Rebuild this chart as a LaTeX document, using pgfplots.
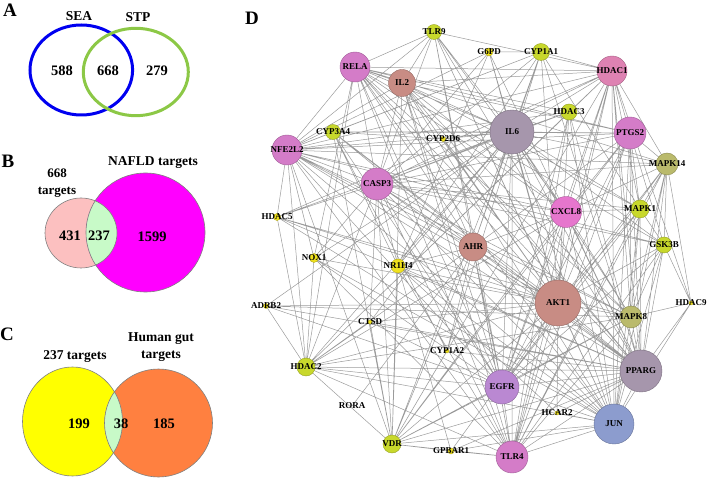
\documentclass[border=0pt]{standalone}
\usepackage{pgfplots}
\pgfplotsset{compat=1.18}
\usepackage{fontspec}
\setmainfont{Liberation Serif}
\definecolor{cYG}{RGB}{200,216,44}
\definecolor{cY}{RGB}{240,226,30}
\definecolor{cPink}{RGB}{212,124,200}
\definecolor{cPinkB}{RGB}{222,130,178}
\definecolor{cPinkC}{RGB}{230,118,205}
\definecolor{cRosy}{RGB}{200,140,132}
\definecolor{cGP}{RGB}{166,150,172}
\definecolor{cOl}{RGB}{186,186,108}
\definecolor{cEG}{RGB}{186,136,210}
\definecolor{cJU}{RGB}{140,156,206}
\definecolor{vBlue}{RGB}{0,0,240}
\definecolor{vGreen}{RGB}{140,200,70}
\definecolor{vPink}{RGB}{252,192,192}
\definecolor{vMag}{RGB}{255,0,255}
\definecolor{vLens}{RGB}{200,250,200}
\definecolor{vYel}{RGB}{255,255,0}
\definecolor{vOra}{RGB}{255,128,64}
\definecolor{edgec}{RGB}{155,155,155}

% name, x, y, radius, colour  (pixel coordinates of the figure)
\newcommand\nodedata{%
\N{TLR9}{434}{32}{7.5}{cYG}%
\N{G6PD}{489}{52}{4}{cY}%
\N{CYP1A1}{541}{52}{8.5}{cYG}%
\N{RELA}{355}{67}{15}{cPink}%
\N{IL2}{402}{83}{13.5}{cRosy}%
\N{HDAC1}{612}{71}{15}{cPinkB}%
\N{HDAC3}{569}{112}{8}{cYG}%
\N{CYP3A4}{333}{132}{7.5}{cYG}%
\N{CYP2D6}{443}{139}{2.5}{cY}%
\N{IL6}{512}{132}{22}{cGP}%
\N{NFE2L2}{287}{150}{15}{cPink}%
\N{PTGS2}{630}{133}{16}{cPink}%
\N{MAPK14}{667}{164}{11}{cOl}%
\N{CASP3}{377}{184}{16}{cPink}%
\N{CXCL8}{566}{212}{15.5}{cPinkC}%
\N{MAPK1}{640}{209}{9}{cYG}%
\N{HDAC5}{277}{217}{3.5}{cY}%
\N{AHR}{473}{247}{14}{cRosy}%
\N{GSK3B}{664}{245}{8}{cYG}%
\N{NOX1}{314}{258}{4.5}{cY}%
\N{NR1H4}{398}{266}{7}{cY}%
\N{ADRB2}{266}{306}{2.5}{cY}%
\N{AKT1}{558}{303}{23}{cRosy}%
\N{HDAC9}{691}{303}{2}{cY}%
\N{MAPK8}{631}{317}{11}{cOl}%
\N{CTSD}{370}{322}{2}{cY}%
\N{CYP1A2}{447}{351}{2}{cY}%
\N{HDAC2}{306}{367}{9}{cYG}%
\N{PPARG}{641}{371}{21}{cGP}%
\N{EGFR}{502}{387}{17}{cEG}%
\N{RORA}{352}{406}{0.1}{white}%
\N{HCAR2}{557}{413}{2}{cY}%
\N{JUN}{614}{424}{20}{cJU}%
\N{VDR}{392}{444}{9}{cYG}%
\N{GPBAR1}{451}{451}{3}{cY}%
\N{TLR4}{512}{457}{16}{cPink}%
}

\def\N#1#2#3#4#5{\expandafter\def\csname nx:#1\endcsname{#2}\expandafter\def\csname ny:#1\endcsname{#3}}
\nodedata
\gdef\edgelist{}
\def\E#1#2{\xdef\edgelist{\edgelist(\csname nx:#1\endcsname,\csname ny:#1\endcsname) (\csname nx:#2\endcsname,\csname ny:#2\endcsname) (\csname nx:#2\endcsname,nan) }}
\def\Es#1#2{\foreach \nb in {#2}{\E{#1}{\nb}}}
\Es{TLR9}{RELA,IL2,IL6,CASP3,CXCL8,AKT1,PPARG,EGFR,TLR4,JUN,NFE2L2,HDAC1}
\Es{G6PD}{CYP1A1,IL6,NR1H4,AKT1,PPARG,NFE2L2,CASP3}
\Es{CYP1A1}{IL6,CYP3A4,NFE2L2,AHR,NR1H4,CYP1A2,AKT1,PPARG,CASP3,MAPK1,HDAC1}
\Es{RELA}{IL2,HDAC1,NFE2L2,IL6,CASP3,AKT1,CXCL8,PTGS2,EGFR,TLR4,JUN,PPARG,MAPK14,MAPK8,HDAC2,NOX1,AHR,HDAC3,GSK3B}
\Es{IL2}{IL6,CASP3,AKT1,CXCL8,TLR4,JUN,EGFR,PPARG,PTGS2,NFE2L2,HDAC1,AHR,VDR,MAPK8,MAPK1}
\Es{HDAC1}{HDAC3,IL6,PTGS2,CASP3,AKT1,MAPK14,PPARG,JUN,EGFR,NFE2L2,HDAC2,CXCL8,HDAC5,MAPK8,TLR4,VDR,MAPK1,HDAC9}
\Es{HDAC3}{IL6,NFE2L2,AKT1,PPARG,JUN,HDAC2,TLR4,CASP3,EGFR}
\Es{CYP3A4}{NFE2L2,IL6,AHR,PPARG,VDR,NR1H4,AKT1,CYP1A2,EGFR,PTGS2,CYP2D6}
\Es{CYP2D6}{IL6,PPARG,AKT1}
\Es{IL6}{NFE2L2,PTGS2,MAPK14,CASP3,CXCL8,MAPK1,AHR,GSK3B,NOX1,NR1H4,AKT1,MAPK8,HDAC2,PPARG,EGFR,JUN,VDR,TLR4,HDAC5,ADRB2,CTSD}
\Es{NFE2L2}{CASP3,AKT1,PTGS2,AHR,PPARG,JUN,HDAC2,EGFR,TLR4,VDR,MAPK8,GSK3B,CXCL8,MAPK14,HDAC5,NOX1}
\Es{PTGS2}{MAPK14,CASP3,AKT1,CXCL8,JUN,EGFR,TLR4,PPARG,MAPK8,MAPK1,AHR,VDR,GSK3B}
\Es{MAPK14}{AKT1,MAPK8,JUN,PPARG,CASP3,HDAC9,EGFR,TLR4,GSK3B,MAPK1,CXCL8}
\Es{CASP3}{CXCL8,MAPK1,AHR,GSK3B,NR1H4,AKT1,MAPK8,HDAC2,PPARG,EGFR,JUN,VDR,TLR4,CTSD,HDAC5,NOX1}
\Es{CXCL8}{AKT1,TLR4,EGFR,JUN,PPARG,MAPK8,MAPK1,HDAC2,VDR,AHR}
\Es{MAPK1}{AKT1,JUN,EGFR,PPARG,MAPK8,GSK3B,TLR4}
\Es{HDAC5}{AKT1,HDAC2,JUN,PPARG,MAPK8}
\Es{AHR}{AKT1,PPARG,JUN,EGFR,VDR,TLR4,CYP1A2,HDAC2,NR1H4,RORA}
\Es{GSK3B}{AKT1,MAPK8,PPARG,JUN,EGFR,TLR4,HDAC9}
\Es{NOX1}{AKT1,TLR4,EGFR,JUN,HDAC2}
\Es{NR1H4}{PPARG,AKT1,VDR,GPBAR1,JUN,HCAR2,TLR4}
\Es{ADRB2}{AKT1,PPARG,EGFR,HDAC2,MAPK8}
\Es{AKT1}{MAPK8,CTSD,HDAC2,PPARG,EGFR,JUN,VDR,TLR4,HCAR2,GPBAR1}
\Es{HDAC9}{MAPK8,PPARG,JUN}
\Es{MAPK8}{PPARG,EGFR,JUN,TLR4,HDAC2,VDR}
\Es{CTSD}{VDR,PPARG,EGFR,HDAC2}
\Es{CYP1A2}{VDR,PPARG}
\Es{HDAC2}{PPARG,EGFR,JUN,TLR4,VDR}
\Es{PPARG}{EGFR,JUN,TLR4,VDR,HCAR2,GPBAR1}
\Es{EGFR}{JUN,TLR4,VDR}
\Es{HCAR2}{JUN}
\Es{JUN}{VDR,TLR4,GPBAR1}
\Es{VDR}{GPBAR1,TLR4}
\Es{GPBAR1}{TLR4}

\begin{document}
\begin{tikzpicture}
\begin{axis}[width=711pt,height=479pt,scale only axis,
  xmin=0,xmax=711,ymin=0,ymax=479,y dir=reverse,
  hide axis,clip=false,unbounded coords=jump,set layers]
% ---------- Venn A ----------
\pgfplotsextra{%
  \draw[vBlue,line width=3pt] (axis cs:81.3,70) ellipse[x radius=51.3pt,y radius=45pt];
  \draw[vGreen,line width=3pt] (axis cs:135.8,72) ellipse[x radius=52.5pt,y radius=43.7pt];
% ---------- Venn B ----------
  \fill[vPink] (axis cs:81,233) ellipse[x radius=36pt,y radius=35pt];
  \fill[vMag] (axis cs:145.5,232.5) circle[radius=59.5pt];
  \begin{scope}
    \clip (axis cs:81,233) ellipse[x radius=36pt,y radius=35pt];
    \fill[vLens] (axis cs:145.5,232.5) circle[radius=59.5pt];
  \end{scope}
  \draw[gray,line width=0.6pt] (axis cs:81,233) ellipse[x radius=36pt,y radius=35pt];
  \draw[gray,line width=0.6pt] (axis cs:145.5,232.5) circle[radius=59.5pt];
% ---------- Venn C ----------
  \fill[vYel] (axis cs:72.5,421.5) ellipse[x radius=50pt,y radius=54.5pt];
  \fill[vOra] (axis cs:158.5,423) circle[radius=54pt];
  \begin{scope}
    \clip (axis cs:72.5,421.5) ellipse[x radius=50pt,y radius=54.5pt];
    \fill[vLens] (axis cs:158.5,423) circle[radius=54pt];
  \end{scope}
  \draw[gray,line width=0.6pt] (axis cs:72.5,421.5) ellipse[x radius=50pt,y radius=54.5pt];
  \draw[gray,line width=0.6pt] (axis cs:158.5,423) circle[radius=54pt];
}
% ---------- network edges ----------
\edef\tmp{\noexpand\addplot[edgec,line width=0.5pt,forget plot] coordinates {\edgelist};}\tmp
% ---------- network nodes ----------
\def\N#1#2#3#4#5{\addplot[only marks,mark=*,mark size=#4,mark options={fill=#5,draw=#5!75!black,line width=0.4pt},forget plot] coordinates {(#2,#3)};}
\nodedata
\begin{pgfonlayer}{axis foreground}
\def\N#1#2#3#4#5{\node[font=\bfseries\fontsize{9}{9}\selectfont,inner sep=0pt] at (axis cs:#2,#3) {#1};}
\nodedata
\begin{scope}[every node/.style={font=\bfseries\fontsize{13.5}{15}\selectfont}]
\node[font=\bfseries\fontsize{19}{20}\selectfont] at (axis cs:10,10) {A};
\node at (axis cs:79,16) {SEA};
\node at (axis cs:138,17) {STP};
\node[font=\bfseries\fontsize{14.5}{15}\selectfont] at (axis cs:62,71) {588};
\node[font=\bfseries\fontsize{14.5}{15}\selectfont] at (axis cs:108,71) {668};
\node[font=\bfseries\fontsize{14.5}{15}\selectfont] at (axis cs:157,71) {279};
\node[font=\bfseries\fontsize{19}{20}\selectfont] at (axis cs:8,161) {B};
\node at (axis cs:153,163) {NAFLD targets};
\node[align=center,font=\bfseries\fontsize{13}{17.5}\selectfont] at (axis cs:57,183) {668\\targets};
\node[font=\bfseries\fontsize{14.5}{15}\selectfont] at (axis cs:70,236) {431};
\node[font=\bfseries\fontsize{14.5}{15}\selectfont] at (axis cs:99,236) {237};
\node[font=\bfseries\fontsize{14.5}{15}\selectfont] at (axis cs:152,237) {1599};
\node[font=\bfseries\fontsize{19}{20}\selectfont] at (axis cs:7,334) {C};
\node at (axis cs:75,357) {237 targets};
\node[align=center,font=\bfseries\fontsize{13.5}{16.5}\selectfont] at (axis cs:161,347) {Human gut\\targets};
\node[font=\bfseries\fontsize{14.5}{15}\selectfont] at (axis cs:79,424) {199};
\node[font=\bfseries\fontsize{14.5}{15}\selectfont] at (axis cs:121,424) {38};
\node[font=\bfseries\fontsize{14.5}{15}\selectfont] at (axis cs:164,424) {185};
\node[font=\bfseries\fontsize{19}{20}\selectfont] at (axis cs:252,18) {D};
\end{scope}
\end{pgfonlayer}
\end{axis}
\pgfresetboundingbox
\useasboundingbox (current axis.south west) rectangle (current axis.north east);
\end{tikzpicture}
\end{document}
